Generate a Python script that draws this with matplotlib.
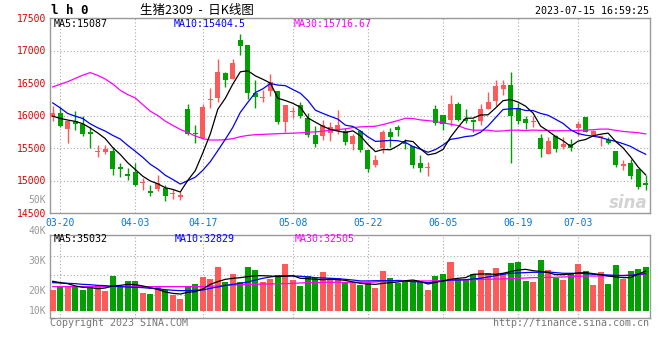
import matplotlib
matplotlib.use('Agg')
import matplotlib.pyplot as plt
import numpy as np

W, H = 660, 360

# daily candles, 2023-03-17 .. 2023-07-14
opens = [15980, 16046, 15791, 15913, 15872, 15745, 15439, 15434, 15449, 15209,
         15097, 15128, 14959, 14837, 14862, 14878, 14785, 14749, 16106, 15725,
         15654, 16238, 16274, 16649, 16568, 17157, 17081, 16345, 16274, 16370,
         16380, 15898, 16050, 16168, 15963, 15707, 15682, 15733, 15769, 15769,
         15554, 15758, 15462, 15231, 15497, 15753, 15830, 15584, 15538, 15272,
         15196, 16101, 16014, 15937, 16183, 15948, 15937, 15912, 16106, 16224,
         16403, 16474, 16116, 15953, 15896, 15656, 15405, 15692, 15513, 15569,
         15804, 15978, 15707, 15651, 15630, 15457, 15221, 15262, 15180, 14965]
highs = [16153, 16128, 15913, 16066, 15985, 15827, 15551, 15551, 15515, 15265,
         15199, 15276, 15031, 14929, 15082, 14929, 14872, 14821, 16172, 15857,
         16182, 16421, 16863, 16675, 16863, 17249, 17081, 16548, 16396, 16644,
         16380, 16167, 16127, 16214, 16040, 15845, 15937, 15896, 16091, 15809,
         15723, 15784, 15462, 15395, 15784, 15809, 15861, 15641, 15538, 15395,
         15288, 16168, 16014, 16311, 16208, 16101, 15948, 16183, 16357, 16541,
         16541, 16669, 16193, 15989, 15989, 15723, 15666, 15707, 15671, 15641,
         15912, 15978, 15784, 15707, 15671, 15457, 15313, 15324, 15180, 15078]
lows = [15923, 15821, 15577, 15775, 15684, 15505, 15367, 15413, 15087, 15061,
        15010, 14908, 14857, 14765, 14842, 14679, 14708, 14698, 15700, 15573,
        15644, 16116, 16202, 16431, 16568, 16934, 16253, 16111, 16202, 16304,
        15862, 15745, 15963, 15958, 15666, 15513, 15620, 15605, 15723, 15544,
        15467, 15446, 15129, 15211, 15421, 15518, 15682, 15487, 15191, 15129,
        15068, 15850, 15774, 15835, 15912, 15886, 15748, 15856, 16106, 16142,
        16311, 15262, 15871, 15799, 15820, 15359, 15405, 15446, 15487, 15451,
        15692, 15743, 15682, 15528, 15569, 15206, 15160, 15027, 14873, 14848]
closes = [16046, 15832, 15913, 15867, 15714, 15714, 15449, 15480, 15179, 15184,
          15071, 14929, 14969, 14811, 14969, 14765, 14800, 14770, 15710, 15715,
          16131, 16258, 16670, 16553, 16807, 17071, 16340, 16279, 16289, 16517,
          15898, 16167, 16065, 15989, 15697, 15569, 15850, 15825, 15861, 15590,
          15692, 15462, 15170, 15308, 15753, 15671, 15774, 15564, 15231, 15191,
          15211, 15886, 15866, 16183, 15937, 15912, 15896, 16106, 16203, 16459,
          16474, 15989, 15912, 15886, 15922, 15477, 15615, 15487, 15554, 15497,
          15876, 15743, 15763, 15682, 15579, 15231, 15252, 15068, 14904, 14924]

ma5 = [15990, 15955, 15930, 15910, 15874, 15808, 15731, 15645, 15507, 15401,
       15273, 15169, 15066, 14993, 14950, 14889, 14863, 14823, 15003, 15152,
       15425, 15717, 16097, 16265, 16484, 16672, 16688, 16610, 16557, 16499,
       16265, 16230, 16187, 16127, 15963, 15897, 15834, 15786, 15760, 15739,
       15764, 15686, 15555, 15444, 15477, 15473, 15535, 15614, 15599, 15486,
       15394, 15417, 15477, 15667, 15817, 15957, 15959, 16007, 16011, 16115,
       16228, 16246, 16207, 16144, 16037, 15837, 15762, 15677, 15611, 15526,
       15606, 15631, 15687, 15712, 15729, 15600, 15501, 15362, 15207, 15087]
ma10 = [16194, 16117, 16031, 15990, 15954, 15872, 15811, 15760, 15694, 15638,
        15540, 15450, 15356, 15250, 15176, 15081, 15016, 14945, 14998, 15051,
        15157, 15290, 15460, 15634, 15818, 16049, 16203, 16353, 16411, 16492,
        16468, 16459, 16399, 16342, 16231, 16081, 16032, 15987, 15944, 15851,
        15831, 15760, 15671, 15602, 15608, 15618, 15611, 15585, 15522, 15482,
        15434, 15476, 15546, 15633, 15651, 15676, 15688, 15742, 15839, 15966,
        16092, 16103, 16107, 16077, 16076, 16032, 16004, 15942, 15878, 15781,
        15722, 15697, 15682, 15662, 15627, 15603, 15566, 15525, 15460, 15404]
ma30 = [16440, 16480, 16520, 16570, 16620, 16660, 16617, 16561, 16485, 16388,
        16321, 16270, 16168, 16066, 16000, 15913, 15847, 15786, 15740, 15684,
        15644, 15623, 15623, 15628, 15644, 15674, 15694, 15705, 15710, 15715,
        15720, 15725, 15728, 15733, 15743, 15748, 15758, 15774, 15784, 15794,
        15815, 15825, 15830, 15835, 15861, 15891, 15922, 15958, 15953, 15932,
        15922, 15907, 15886, 15866, 15845, 15799, 15774, 15774, 15774, 15758,
        15763, 15774, 15774, 15769, 15776, 15771, 15771, 15766, 15766, 15766,
        15771, 15776, 15781, 15791, 15791, 15771, 15755, 15745, 15735, 15717]

volume = [18400, 22000, 22000, 20800, 18400, 22000, 22800, 17600, 31000, 20800,
          26400, 26400, 16100, 14900, 20800, 18400, 14100, 10500, 22000, 24000,
          29900, 28100, 38600, 25500, 32800, 25200, 38600, 36000, 25500, 28100,
          31600, 41600, 27200, 22000, 30700, 28700, 34300, 28700, 29300, 25800,
          25800, 22800, 24300, 20500, 35100, 29300, 24300, 25800, 25800, 25800,
          18400, 30700, 32500, 43000, 27800, 27200, 32500, 36000, 33700, 37800,
          33700, 42200, 43000, 26400, 25500, 44800, 36000, 29300, 27200, 33100,
          41300, 35100, 22800, 34300, 23700, 40400, 28100, 35100, 36900, 38600]
vol_ma5 = [26100, 24900, 24000, 22000, 20800, 20500, 19600, 20200, 22000, 22500,
           23400, 23100, 22000, 20500, 19000, 16700, 15500, 14900, 16400, 17000,
           19300, 23400, 25800, 27800, 28700, 29300, 30200, 31000, 31000, 30700,
           30200, 30500, 31000, 28700, 28400, 27800, 27500, 27800, 27500, 26900,
           25500, 24300, 23700, 23400, 24300, 24900, 25500, 26600, 27200, 25800,
           23700, 25200, 26400, 27800, 28700, 29300, 32200, 32500, 32500, 32200,
           33100, 34600, 36000, 36600, 35400, 34800, 33700, 31900, 31900, 32500,
           33400, 33700, 32800, 31900, 30700, 29900, 29300, 29300, 32500, 35032]
vol_ma10 = [24900, 24600, 24300, 24000, 23400, 23100, 22500, 22300, 21700, 21400,
            21100, 20800, 20500, 19900, 19600, 18700, 18200, 17900, 17900, 18200,
            18400, 19900, 21100, 22500, 23400, 24300, 25500, 27200, 28700, 29900,
            30700, 31000, 30700, 30500, 29900, 29300, 29000, 28700, 28400, 27800,
            27200, 26400, 26400, 26600, 26600, 26600, 26600, 26100, 25800, 25500,
            24900, 25500, 26400, 27200, 27200, 27500, 28100, 28700, 29900, 31000,
            32200, 33100, 33400, 33700, 34000, 34000, 34300, 33700, 33100, 33100,
            33100, 32800, 32200, 31900, 31600, 31300, 31000, 31300, 32200, 32829]
vol_ma30 = [21400, 21400, 21400, 21400, 21400, 21400, 21400, 21400, 21400, 21400,
            21400, 21400, 21400, 21400, 21400, 21400, 21400, 21400, 21400, 21400,
            21400, 21700, 22000, 22500, 22800, 23100, 23400, 23400, 23700, 23700,
            24000, 24000, 24300, 24600, 24900, 24900, 25200, 25200, 25200, 25200,
            25200, 25200, 25200, 25500, 26100, 26600, 26900, 26600, 26400, 26400,
            26400, 26600, 26600, 26900, 27200, 27200, 27500, 27800, 27800, 28100,
            28100, 28400, 28700, 29000, 29300, 29300, 29600, 29600, 29900, 30200,
            30500, 30700, 30700, 30700, 31000, 31300, 31300, 31600, 31900, 32505]

date_labels = ['03-20', '04-03', '04-17', '05-08', '05-22', '06-05', '06-19', '07-03']
date_idx = [1, 11, 20, 32, 42, 52, 62, 70]
price_ticks = [14500, 15000, 15500, 16000, 16500, 17000, 17500]

RED = '#ff5a5a'
GREEN = '#00a000'
GRID = '#aaaaaa'
FRAME = '#999999'
MONO = 'DejaVu Sans Mono'
CJK = ['Noto Sans CJK SC', 'DejaVu Sans']

fig = plt.figure(figsize=(W / 100, H / 100), dpi=100)


def box(x0, y0, x1, y1):
    # pixel box (top-left origin) -> figure fraction
    return [x0 / W, 1 - y1 / H, (x1 - x0) / W, (y1 - y0) / H]


def ftext(x, y, s, **kw):
    fig.text(x / W, 1 - y / H, s, **kw)


ax = fig.add_axes(box(50, 18, 650, 213))
axv = fig.add_axes(box(50, 234.7, 650, 318))

o = np.array(opens)
c = np.array(closes)
x = np.arange(len(closes))
up = c >= o
colors = np.where(up, RED, GREEN)

# price panel
ax.vlines(x, lows, highs, colors=colors, lw=1.0, zorder=3)
ax.bar(x, np.maximum(np.abs(c - o), 14), bottom=np.minimum(o, c), width=0.67,
       color=colors, linewidth=0, zorder=3)
ax.plot(x, ma30, color='#ff00ff', lw=0.9, zorder=4)
ax.plot(x, ma10, color='#0000ff', lw=0.9, zorder=4)
ax.plot(x, ma5, color='#000000', lw=0.9, zorder=4)

ax.set_xlim(-0.36, 79.58)
ax.set_ylim(14500, 17500)
ax.set_yticks(price_ticks)
ax.set_yticklabels([str(p) for p in price_ticks], family=MONO, fontsize=7, color='#e00000')
ax.set_xticks(date_idx)
ax.set_xticklabels(date_labels, family=MONO, fontsize=7, color='#0077dd')
ax.tick_params(length=0)
ax.tick_params(axis='y', pad=2.9)
ax.tick_params(axis='x', pad=3.4)
ax.grid(True, ls=(0, (1, 2)), color=GRID, lw=0.8)

# volume panel
axv.bar(x, volume, width=0.8, color=colors, linewidth=0, zorder=3)
axv.plot(x, vol_ma30, color='#ff00ff', lw=0.9, zorder=4)
axv.plot(x, vol_ma10, color='#0000ff', lw=0.9, zorder=4)
axv.plot(x, vol_ma5, color='#000000', lw=0.9, zorder=4)
axv.set_xlim(-0.36, 79.58)
axv.set_ylim(-6150, 67000)
axv.set_xticks(date_idx)
axv.set_xticklabels([])
axv.set_yticks([13800, 31400, 48600])
axv.set_yticklabels([])
axv.tick_params(length=0)
axv.grid(True, ls=(0, (1, 2)), color=GRID, lw=0.8)

for a in (ax, axv):
    a.set_axisbelow(True)
    for s in a.spines.values():
        s.set_color(FRAME)
        s.set_linewidth(1.0)

# header
ftext(51, 10, 'l h 0', family=MONO, fontsize=9, weight='bold', va='center')
ftext(140, 10, '生猪2309  -  日K线图', family=CJK, fontsize=9, va='center')
ftext(649, 11, '2023-07-15 16:59:25', family=MONO, fontsize=7.2, ha='right', va='center')

# legends
ftext(54, 23.7, 'MA5:15087', family=MONO, fontsize=7.2, color='#000000', va='center')
ftext(174, 23.7, 'MA10:15404.5', family=MONO, fontsize=7.2, color='#0000ff', va='center')
ftext(294, 23.7, 'MA30:15716.67', family=MONO, fontsize=7.2, color='#ff00ff', va='center')
ftext(54, 238.5, 'MA5:35032', family=MONO, fontsize=7.2, color='#000000', va='center')
ftext(175, 238.5, 'MA10:32829', family=MONO, fontsize=7.2, color='#0000ff', va='center')
ftext(295, 238.5, 'MA30:32505', family=MONO, fontsize=7.2, color='#ff00ff', va='center')

# volume axis labels as sina draws them
for lab, yy in [('50K', 200), ('40K', 231), ('30K', 260.7), ('20K', 290.7), ('10K', 310.5)]:
    ftext(46, yy, lab, family=MONO, fontsize=7, color='#999999', ha='right', va='center')

ftext(50, 323.5, 'Copyright 2023 SINA.COM', family=MONO, fontsize=7.2, color='#777777', va='center')
ftext(649, 323.5, 'http://finance.sina.com.cn', family=MONO, fontsize=7.2, color='#777777',
      ha='right', va='center')
ftext(628, 203, 'sina', fontsize=12, style='italic', weight='bold', color='#c8c8c8',
      ha='center', va='center', alpha=0.8)

fig.savefig('out.png', dpi=100)
